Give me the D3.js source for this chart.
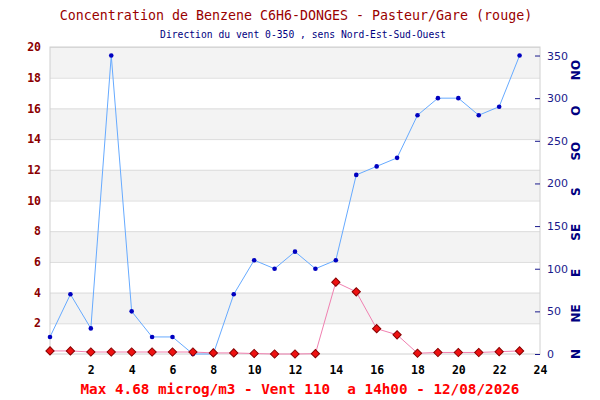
<!DOCTYPE html>
<html>
<head>
<meta charset="utf-8">
<script src="https://cdn.jsdelivr.net/npm/d3@7"></script>
<style>
  body { margin: 0; background: #fff; }
  text { white-space: pre; }
</style>
</head>
<body>
<svg id="chart"></svg>
<script>
// Hours of the day
const hours = d3.range(0, 24);

// Benzene concentration (microg/m3), left axis
const benzene = [0.2, 0.2, 0.13, 0.13, 0.13, 0.13, 0.13, 0.13, 0.07, 0.07, 0.03, 0, 0,
    0.02, 4.68, 4.05, 1.65, 1.25, 0.05, 0.1, 0.1, 0.1, 0.15, 0.2];

// Wind direction (degrees), right axis
const windDir = [20, 70, 30, 350, 50, 20, 20, 0, 0, 70, 110, 100, 120, 100, 110,
    210, 220, 230, 280, 300, 300, 280, 290, 350];

const xTicks = [2, 4, 6, 8, 10, 12, 14, 16, 18, 20, 22, 24];
const leftTicks = [2, 4, 6, 8, 10, 12, 14, 16, 18, 20];
const rightTicks = [0, 50, 100, 150, 200, 250, 300, 350];
const directions = ['N', 'NE', 'E', 'SE', 'S', 'SO', 'O', 'NO'];

const title = 'Concentration de Benzene C6H6-DONGES - Pasteur/Gare (rouge)';
const subtitle = 'Direction du vent 0-350 , sens Nord-Est-Sud-Ouest';
const footer = 'Max 4.68 microg/m3 - Vent 110  a 14h00 - 12/08/2026';

const width = 600;
const height = 400;
const margin = { top: 47, right: 60, bottom: 46, left: 50 };
const mono = '"DejaVu Sans Mono", "Liberation Mono", monospace';

const svg = d3.select('#chart')
    .attr('width', width)
    .attr('height', height)
    .style('font-family', mono);

const x = d3.scaleLinear()
    .domain([0, 24])
    .range([margin.left, width - margin.right]);

const y = d3.scaleLinear()
    .domain([0, 20])
    .range([height - margin.bottom, margin.top]);

const y2 = d3.scaleLinear()
    .domain([0, 360])
    .range([height - margin.bottom, margin.top]);

// direction labels are spread a bit wider than the degree scale
const yDir = d3.scaleLinear()
    .domain([0, 7])
    .range([height - margin.bottom, 70]);

// Alternating bands
const bands = d3.range(2, 20, 4);
svg.append('g')
    .selectAll('rect')
    .data(bands)
    .join('rect')
    .attr('x', x(0))
    .attr('width', x(24) - x(0))
    .attr('y', (d) => y(d + 2))
    .attr('height', (d) => y(d) - y(d + 2))
    .attr('fill', '#f3f3f3');

// Grid lines
svg.append('g')
    .attr('class', 'axis-grid')
    .attr('transform', `translate(${x(0)},0)`)
    .call(d3.axisLeft(y).tickValues(leftTicks).tickSize(-(x(24) - x(0))).tickFormat(''))
    .call((g) => g.select('.domain').remove());
d3.selectAll('.axis-grid line').style('stroke', '#dcdcdc');

// Frame
svg.append('rect')
    .attr('x', x(0))
    .attr('y', y(20))
    .attr('width', x(24) - x(0))
    .attr('height', y(0) - y(20))
    .attr('fill', 'none')
    .attr('stroke', '#d0d0d0');

// X axis labels
svg.append('g')
    .attr('transform', `translate(0,${y(0)})`)
    .call(d3.axisBottom(x).tickValues(xTicks).tickSize(0).tickPadding(12))
    .call((g) => g.select('.domain').remove())
    .selectAll('text')
    .attr('fill', '#000')
    .style('font-family', mono)
    .style('font-size', '11.5px')
    .style('font-weight', 'bold');

// Left axis labels
svg.append('g')
    .attr('transform', `translate(${x(0)},0)`)
    .call(d3.axisLeft(y).tickValues(leftTicks).tickSize(0).tickPadding(9))
    .call((g) => g.select('.domain').remove())
    .selectAll('text')
    .attr('fill', '#8b0000')
    .style('font-family', mono)
    .style('font-size', '11.5px')
    .style('font-weight', 'bold');

// Right axis
const right = svg.append('g')
    .attr('transform', `translate(${x(24)},0)`)
    .call(d3.axisRight(y2).tickValues(rightTicks).tickSize(-5).tickPadding(12))
    .call((g) => g.select('.domain').remove());
right.selectAll('line').attr('stroke', '#1a1a8c');
right.selectAll('text')
    .attr('fill', '#1a1a8c')
    .attr('x', 7)
    .style('font-family', '"DejaVu Sans", sans-serif')
    .style('font-size', '11px');

// Direction names
svg.append('g')
    .selectAll('text')
    .data(directions)
    .join('text')
    .attr('transform', (d, i) => `translate(580,${yDir(i)}) rotate(-90)`)
    .attr('text-anchor', 'middle')
    .attr('fill', '#000080')
    .style('font-family', '"DejaVu Sans", sans-serif')
    .style('font-size', '12px')
    .style('font-weight', 'bold')
    .text((d) => d);

// Wind direction line
const windLine = d3.line()
    .x((d, i) => x(hours[i]))
    .y((d) => y2(d));

svg.append('path')
    .datum(windDir)
    .attr('fill', 'none')
    .attr('stroke', '#66aaff')
    .attr('stroke-width', 1)
    .attr('d', windLine);

svg.append('g')
    .selectAll('circle')
    .data(windDir)
    .join('circle')
    .attr('cx', (d, i) => x(hours[i]))
    .attr('cy', (d) => y2(d))
    .attr('r', 2.3)
    .attr('fill', '#0000c0');

// Benzene line
const benzLine = d3.line()
    .x((d, i) => x(hours[i]))
    .y((d) => y(d));

svg.append('path')
    .datum(benzene)
    .attr('fill', 'none')
    .attr('stroke', '#f080b0')
    .attr('stroke-width', 1)
    .attr('d', benzLine);

svg.append('g')
    .selectAll('path')
    .data(benzene)
    .join('path')
    .attr('d', d3.symbol(d3.symbolSquare, 34))
    .attr('transform', (d, i) => `translate(${x(hours[i])},${y(d)}) rotate(45)`)
    .attr('fill', '#ee1111')
    .attr('stroke', '#880000')
    .attr('stroke-width', 1);

// Titles
svg.append('text')
    .attr('x', 296)
    .attr('y', 20)
    .attr('text-anchor', 'middle')
    .attr('fill', '#990000')
    .style('font-size', '13.3px')
    .text(title);

svg.append('text')
    .attr('x', 303)
    .attr('y', 38)
    .attr('text-anchor', 'middle')
    .attr('fill', '#000080')
    .style('font-size', '9.7px')
    .text(subtitle);

svg.append('text')
    .attr('x', 300)
    .attr('y', 394)
    .attr('text-anchor', 'middle')
    .attr('fill', '#ff0000')
    .style('font-size', '14.3px')
    .style('font-weight', 'bold')
    .text(footer);
</script>
</body>
</html>
